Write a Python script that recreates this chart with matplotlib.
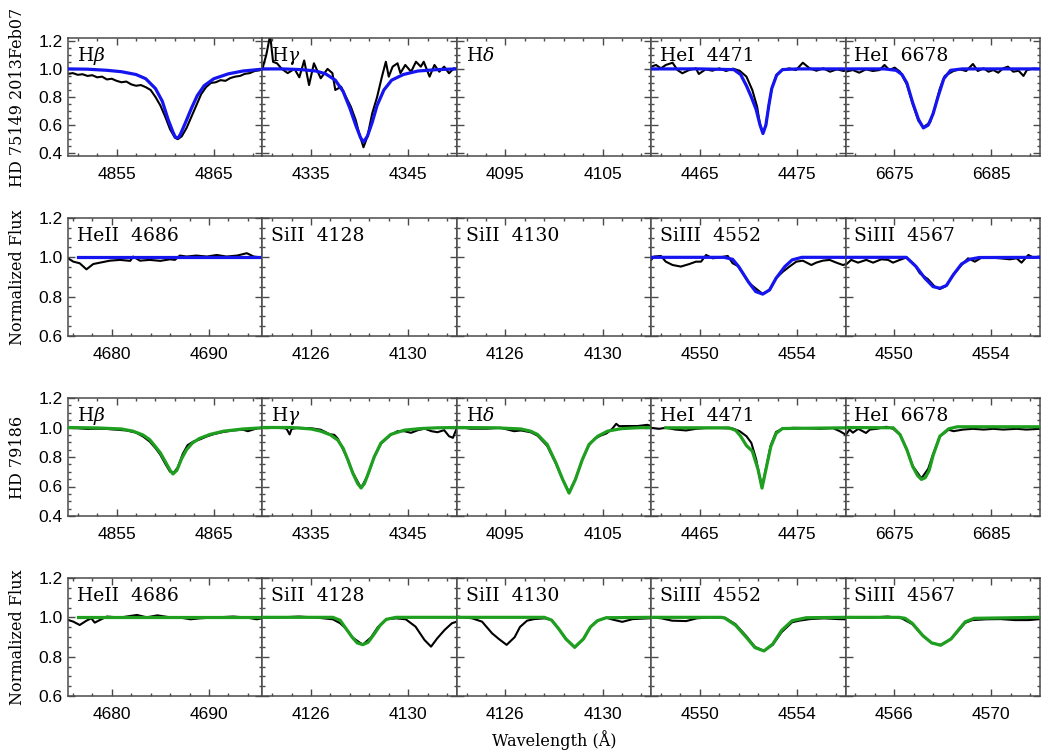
import matplotlib
matplotlib.use('Agg')
import matplotlib.pyplot as plt
from matplotlib.ticker import MultipleLocator, FormatStrFormatter

plt.rcParams['font.family'] = 'Liberation Sans'
plt.rcParams['mathtext.fontset'] = 'dejavuserif'

# ---------------- HD 75149 2013Feb07 (observed = black, model = blue) ----------------
# H beta
hb1_wl = [4850, 4850.5, 4851, 4851.5, 4852, 4852.5, 4853, 4853.5, 4854, 4854.5, 4855, 4855.5,
          4856, 4856.5, 4857, 4857.5, 4858, 4858.5, 4859, 4859.5, 4860, 4860.5, 4861, 4861.3,
          4861.7, 4862.2, 4862.7, 4863.2, 4863.7, 4864.2, 4864.7, 4865.2, 4865.7, 4866.2,
          4866.7, 4867.2, 4867.7, 4868.2, 4868.7, 4869.2, 4869.7, 4870]
hb1_obs = [0.965, 0.97, 0.958, 0.962, 0.95, 0.955, 0.94, 0.945, 0.925, 0.93, 0.915, 0.905,
           0.91, 0.89, 0.88, 0.885, 0.87, 0.85, 0.80, 0.74, 0.66, 0.57, 0.51, 0.50,
           0.52, 0.58, 0.66, 0.74, 0.82, 0.87, 0.90, 0.905, 0.92, 0.915,
           0.935, 0.945, 0.95, 0.965, 0.97, 0.985, 0.99, 1.0]
hb1_mwl = [4850, 4852, 4854, 4855.5, 4857, 4858, 4859, 4859.7, 4860.3, 4860.8, 4861.0, 4861.2,
           4861.4, 4861.6, 4862.1, 4862.7, 4863.3, 4864, 4865, 4866.5, 4868, 4870]
hb1_mod = [1.0, 0.998, 0.99, 0.98, 0.96, 0.93, 0.86, 0.77, 0.64, 0.55, 0.52, 0.508,
           0.515, 0.54, 0.62, 0.72, 0.81, 0.88, 0.93, 0.965, 0.985, 0.998]

# H gamma
hg1_wl = [4330.0, 4330.4, 4330.8, 4331.1, 4331.5, 4332.0, 4332.6, 4333.3, 4333.8, 4334.3,
          4334.8, 4335.3, 4336.0, 4336.7, 4337.2, 4337.5, 4338.1, 4338.6, 4339.1, 4339.6,
          4339.95, 4340.4, 4340.8, 4341.3, 4341.8, 4342.3, 4342.7, 4343.0, 4343.4, 4343.9,
          4344.2, 4344.7, 4345.3, 4345.8, 4346.3, 4346.6, 4347.2, 4347.7, 4348.2, 4348.7,
          4349.2, 4349.7, 4350.0]
hg1_obs = [1.0, 1.10, 1.24, 1.05, 1.04, 1.0, 0.97, 1.0, 0.94, 1.06,
           0.885, 1.04, 0.933, 1.0, 0.97, 0.85, 0.873, 0.80, 0.731, 0.636,
           0.542, 0.442, 0.518, 0.684, 0.80, 0.945, 1.051, 0.945, 1.016, 1.04,
           0.97, 1.028, 0.98, 1.051, 1.016, 1.051, 0.945, 1.028, 0.98, 1.016,
           0.969, 1.004, 1.0]
hg1_mwl = [4330, 4332, 4334, 4335.5, 4336.5, 4337.5, 4338.3, 4339, 4339.6, 4340.1, 4340.4,
           4340.8, 4341.3, 4341.8, 4342.5, 4343.3, 4344.5, 4346, 4348, 4350]
hg1_mod = [1.0, 1.0, 0.995, 0.985, 0.965, 0.92, 0.84, 0.72, 0.60, 0.51, 0.48,
           0.52, 0.62, 0.74, 0.85, 0.92, 0.96, 0.985, 0.995, 1.0]

# HeI 4471
he41_wl = [4460, 4460.5, 4461.0, 4461.5, 4462.2, 4462.7, 4463.2, 4463.9, 4464.6, 4464.9,
           4465.6, 4466.3, 4467.0, 4467.7, 4468.4, 4469.1, 4469.8, 4470.4, 4470.9, 4471.2,
           4471.5, 4471.8, 4472.1, 4472.4, 4472.9, 4473.5, 4474.2, 4474.9, 4475.6, 4476.3,
           4477.0, 4477.7, 4478.4, 4479.1, 4479.8, 4480]
he41_obs = [1.016, 1.028, 1.004, 1.028, 1.044, 0.992, 0.969, 0.992, 1.004, 0.964,
            0.997, 0.987, 1.004, 0.985, 1.002, 0.987, 0.945, 0.85, 0.73, 0.60,
            0.545, 0.60, 0.74, 0.86, 0.957, 0.992, 1.004, 0.992, 1.044, 1.004,
            0.987, 1.004, 0.98, 0.997, 0.985, 0.99]
he41_mwl = [4460, 4465, 4468.5, 4469.2, 4469.8, 4470.3, 4470.8, 4471.2, 4471.5, 4471.8,
            4472.1, 4472.4, 4472.9, 4473.5, 4475, 4480]
he41_mod = [1.0, 1.0, 0.995, 0.96, 0.88, 0.80, 0.71, 0.60, 0.54, 0.60,
            0.74, 0.86, 0.955, 0.995, 1.0, 1.0]

# HeI 6678
he61_wl = [6670, 6670.75, 6671.4, 6672.1, 6672.8, 6673.5, 6674.0, 6674.5, 6675.05, 6675.6,
           6676.3, 6676.9, 6677.5, 6678.0, 6678.7, 6679.2, 6679.7, 6680.2, 6681.1, 6681.75,
           6682.4, 6683.1, 6683.6, 6684.2, 6684.7, 6685.2, 6685.7, 6686.2, 6686.7, 6687.25,
           6687.8, 6688.3, 6688.65, 6689.3, 6690]
he61_obs = [0.98, 0.992, 0.973, 0.997, 0.985, 0.992, 1.028, 0.992, 1.009, 0.98,
            0.89, 0.75, 0.63, 0.585, 0.62, 0.73, 0.86, 0.95, 0.985, 0.997,
            0.985, 1.035, 0.985, 1.004, 0.98, 0.992, 0.973, 1.004, 1.016, 0.98,
            0.987, 0.95, 0.992, 1.002, 0.999]
he61_mwl = [6670, 6674, 6675.2, 6675.8, 6676.3, 6676.9, 6677.5, 6678.0, 6678.5, 6679.0,
            6679.5, 6680.1, 6680.8, 6682, 6690]
he61_mod = [1.0, 1.0, 0.99, 0.96, 0.90, 0.76, 0.64, 0.58, 0.60, 0.68,
            0.80, 0.93, 0.99, 1.0, 1.0]

# HeII 4686
h22_wl = [4675.5, 4676.05, 4676.7, 4677.4, 4678.1, 4678.8, 4679.8, 4680.85, 4681.9, 4682.2,
          4682.9, 4683.9, 4685.0, 4686.0, 4686.5, 4687.0, 4687.7, 4688.7, 4689.8, 4690.8,
          4691.8, 4692.9, 4693.9, 4694.6, 4695.5]
h22_obs = [0.995, 0.978, 0.97, 0.939, 0.966, 0.973, 0.983, 0.987, 0.982, 1.004,
           0.983, 0.987, 0.982, 0.99, 0.987, 1.009, 1.004, 1.009, 1.004, 1.012,
           1.004, 1.009, 1.021, 1.004, 0.999]
h22_mwl = [4676.5, 4695.5]
h22_mod = [1.0, 1.0]

# SiIII 4552
s42_wl = [4548, 4548.12, 4548.4, 4548.6, 4548.88, 4549.22, 4549.57, 4549.84, 4550.05, 4550.26,
          4550.53, 4550.8, 4551.15, 4551.35, 4551.56, 4551.77, 4552.04, 4552.38, 4552.59, 4552.87,
          4553.14, 4553.42, 4553.69, 4553.97, 4554.24, 4554.59, 4554.79, 4555.06, 4555.34, 4555.62,
          4555.89, 4556]
s42_obs = [0.987, 1.004, 1.007, 0.978, 0.961, 0.953, 0.966, 0.978, 0.978, 1.012,
           0.995, 0.999, 1.007, 0.970, 0.956, 0.919, 0.868, 0.834, 0.814, 0.834,
           0.894, 0.927, 0.953, 0.978, 0.983, 0.961, 0.973, 0.983, 0.987, 0.973,
           0.961, 0.965]
s42_mwl = [4548, 4551.0, 4551.35, 4551.6, 4552.0, 4552.3, 4552.59, 4552.87, 4553.14, 4553.5,
           4553.8, 4554.2, 4556]
s42_mod = [1.0, 1.0, 0.99, 0.953, 0.875, 0.826, 0.813, 0.834, 0.894, 0.953,
           0.987, 1.0, 1.0]

# SiIII 4567 (drawn on the 4548-4556 axis, as in the original figure)
s52_wl = [4548.0, 4548.23, 4548.51, 4548.85, 4549.13, 4549.47, 4549.75, 4549.95, 4550.23, 4550.5,
          4550.85, 4551.05, 4551.39, 4551.67, 4551.88, 4552.15, 4552.43, 4552.77, 4553.04, 4553.32,
          4553.6, 4553.94, 4554.35, 4554.76, 4555.04, 4555.24, 4555.52, 4555.73, 4555.97]
s52_obs = [0.961, 0.987, 0.973, 0.987, 0.973, 0.99, 0.987, 0.973, 0.987, 0.999,
           0.961, 0.919, 0.889, 0.851, 0.839, 0.855, 0.911, 0.961, 0.995, 0.978,
           0.999, 0.999, 0.995, 0.99, 0.995, 0.973, 1.012, 0.999, 1.004]
s52_mwl = [4548, 4550.5, 4550.9, 4551.26, 4551.6, 4551.88, 4552.15, 4552.43, 4552.77, 4553.1,
           4553.5, 4556]
s52_mod = [1.0, 1.0, 0.953, 0.894, 0.851, 0.843, 0.857, 0.911, 0.966, 0.990,
           0.999, 1.0]

# ---------------- HD 79186 (observed = black, model = green) ----------------
hb3_wl = [4850, 4851, 4852, 4853, 4854, 4855, 4856, 4857, 4857.7, 4858.4, 4859.0, 4859.5,
          4860.0, 4860.5, 4860.9, 4861.3, 4861.8, 4862.3, 4862.9, 4863.6, 4864.3, 4865,
          4866, 4867, 4868, 4868.5, 4869, 4869.5, 4870]
hb3_obs = [0.998, 0.995, 0.99, 0.992, 0.99, 0.985, 0.98, 0.965, 0.94, 0.905, 0.86, 0.815,
           0.755, 0.70, 0.695, 0.73, 0.82, 0.88, 0.905, 0.92, 0.94, 0.955,
           0.97, 0.98, 0.985, 0.975, 0.985, 0.995, 1.0]
hb3_mwl = [4850, 4853, 4855.5, 4856.7, 4857.7, 4858.4, 4859.0, 4859.5, 4860.0, 4860.5, 4860.8,
           4861.2, 4861.7, 4862.2, 4862.8, 4863.5, 4864.6, 4866, 4868, 4870]
hb3_mod = [1.0, 0.997, 0.99, 0.975, 0.95, 0.918, 0.87, 0.828, 0.77, 0.71, 0.685,
           0.71, 0.79, 0.85, 0.895, 0.925, 0.953, 0.975, 0.99, 0.998]

hg3_wl = [4330, 4331.2, 4332.3, 4332.5, 4332.8, 4333.0, 4333.6, 4335.0, 4336.0, 4336.9,
          4337.4, 4337.75, 4338.6, 4339.3, 4340.15, 4340.8, 4341.5, 4342.2, 4343.2, 4343.9,
          4344.6, 4345.3, 4346.0, 4346.7, 4347.4, 4348.0, 4348.7, 4349.2, 4349.6, 4350]
hg3_obs = [0.998, 0.998, 0.995, 0.99, 0.953, 0.99, 0.998, 0.995, 0.985, 0.955,
           0.95, 0.925, 0.81, 0.695, 0.59, 0.67, 0.80, 0.89, 0.95, 0.975,
           0.975, 0.964, 0.982, 0.992, 0.975, 0.968, 0.982, 0.941, 0.93, 0.995]
hg3_mwl = [4330, 4333, 4335, 4336.0, 4337.0, 4337.75, 4338.3, 4338.8, 4339.3, 4339.8, 4340.15,
           4340.5, 4340.9, 4341.5, 4342.2, 4343.2, 4344.6, 4346.3, 4348, 4350]
hg3_mod = [1.0, 1.0, 0.99, 0.975, 0.95, 0.915, 0.86, 0.78, 0.69, 0.62, 0.59,
           0.62, 0.69, 0.80, 0.895, 0.953, 0.982, 0.993, 0.998, 1.0]

hd3_wl = [4090, 4091.4, 4093.1, 4094.5, 4095.9, 4096.6, 4097.6, 4098.3, 4099.3, 4100.2,
          4100.9, 4101.55, 4102.2, 4102.9, 4103.6, 4104.2, 4104.8, 4105.4, 4106.0, 4106.4,
          4106.7, 4107.6, 4108.6, 4109.6, 4110]
hd3_obs = [1.003, 0.992, 0.992, 0.998, 0.975, 0.98, 0.968, 0.945, 0.875, 0.755,
           0.645, 0.56, 0.65, 0.78, 0.88, 0.925, 0.945, 0.96, 0.992, 1.025,
           1.009, 1.01, 1.01, 1.018, 1.01]
hd3_mwl = [4090, 4094, 4096.6, 4097.6, 4098.3, 4099.3, 4100.2, 4100.9, 4101.55, 4102.2,
           4102.9, 4103.6, 4104.5, 4105.5, 4106.9, 4108.5, 4110]
hd3_mod = [1.0, 0.998, 0.99, 0.975, 0.953, 0.885, 0.76, 0.647, 0.555, 0.647,
           0.78, 0.885, 0.941, 0.975, 0.992, 0.998, 1.0]

he43_wl = [4460, 4460.8, 4461.5, 4462.5, 4463.6, 4464.6, 4465.6, 4467.0, 4468.4, 4469.1,
           4469.8, 4470.3, 4470.8, 4471.1, 4471.4, 4471.8, 4472.3, 4472.85, 4473.5, 4474.6,
           4475.9, 4477.3, 4478.7, 4479.4, 4480]
he43_obs = [0.998, 0.991, 0.998, 0.986, 0.98, 0.991, 0.996, 0.996, 0.993, 0.975,
            0.941, 0.896, 0.784, 0.68, 0.60, 0.72, 0.88, 0.97, 0.991, 0.998,
            0.996, 0.991, 0.996, 0.975, 0.952]
he43_mwl = [4461.5, 4468.0, 4468.7, 4469.2, 4469.8, 4470.4, 4471.0, 4471.4, 4471.8, 4472.3,
            4472.85, 4473.5, 4480]
he43_mod = [0.998, 0.998, 0.98, 0.941, 0.877, 0.84, 0.714, 0.589, 0.714, 0.87,
            0.96, 0.993, 0.998]

he63_wl = [6670.05, 6670.4, 6670.75, 6671.3, 6672.1, 6672.5, 6673.2, 6674.2, 6674.9, 6675.6,
           6676.3, 6676.9, 6677.8, 6678.5, 6679.0, 6679.7, 6680.6, 6681.1, 6682.1, 6683.1,
           6684.2, 6685.2, 6686.2, 6687.6, 6688.6, 6690]
he63_obs = [0.952, 0.986, 0.965, 0.991, 0.963, 0.986, 0.991, 1.005, 0.991, 0.95,
            0.85, 0.74, 0.655, 0.72, 0.82, 0.94, 0.985, 0.975, 0.986, 0.991,
            0.986, 0.991, 0.986, 0.991, 0.986, 0.991]
he63_mwl = [6670, 6674.9, 6675.6, 6676.3, 6676.9, 6677.4, 6677.8, 6678.2, 6678.6, 6679.0,
            6679.7, 6680.6, 6681.5, 6690]
he63_mod = [1.0, 0.998, 0.952, 0.85, 0.736, 0.675, 0.648, 0.66, 0.71, 0.81,
            0.941, 0.991, 1.005, 1.005]

h24_wl = [4675.5, 4676.05, 4676.7, 4677.4, 4677.9, 4678.25, 4678.8, 4679.5, 4680.85, 4682.6,
          4683.6, 4684.7, 4686.0, 4687.0, 4688.1, 4689.1, 4690.8, 4692.5, 4693.9, 4694.9, 4695.5]
h24_obs = [0.987, 0.978, 0.961, 0.983, 0.995, 0.973, 0.987, 1.004, 0.999, 1.012,
           1.0, 1.01, 1.0, 0.999, 0.99, 0.995, 1.0, 1.004, 0.999, 0.99, 0.995]
h24_mwl = [4676.5, 4695.5]
h24_mod = [1.0, 1.0]

s24_wl = [4124.0, 4124.8, 4125.5, 4126.2, 4126.9, 4127.2, 4127.45, 4127.7, 4128.13, 4128.47,
          4128.75, 4129.1, 4129.5, 4129.9, 4130.3, 4130.67, 4130.94, 4131.2, 4131.5, 4131.8, 4132.0]
s24_obs = [0.999, 1.0, 1.004, 0.999, 0.99, 0.97, 0.941, 0.898, 0.861, 0.898,
           0.95, 0.99, 0.995, 0.99, 0.953, 0.885, 0.851, 0.894, 0.936, 0.97, 0.978]
s24_mwl = [4124, 4126.9, 4127.2, 4127.45, 4127.7, 4127.9, 4128.13, 4128.35, 4128.6, 4128.85,
           4129.1, 4129.5, 4132]
s24_mod = [1.0, 1.0, 0.985, 0.941, 0.898, 0.87, 0.861, 0.873, 0.915, 0.96,
           0.99, 1.0, 1.0]

s34_wl = [4124.0, 4124.63, 4125.04, 4125.45, 4125.73, 4126.05, 4126.38, 4126.6, 4126.89, 4127.18,
          4127.61, 4127.9, 4128.19, 4128.49, 4128.85, 4129.21, 4129.5, 4129.79, 4130.15, 4130.37,
          4130.81, 4131.24, 4131.9, 4132.0]
s34_obs = [1.004, 0.995, 0.978, 0.919, 0.89, 0.86, 0.899, 0.951, 0.983, 0.991,
           0.995, 0.986, 0.942, 0.89, 0.846, 0.89, 0.951, 0.983, 0.998, 0.99,
           0.977, 0.991, 0.995, 0.995]
s34_mwl = [4124, 4127.6, 4127.9, 4128.19, 4128.49, 4128.85, 4129.21, 4129.5, 4129.79, 4130.15, 4132]
s34_mod = [1.0, 1.0, 0.986, 0.942, 0.89, 0.848, 0.89, 0.951, 0.983, 0.998, 1.0]

s44_wl = [4548.0, 4548.42, 4548.86, 4549.44, 4549.88, 4550.46, 4551.04, 4551.47, 4551.91, 4552.27,
          4552.64, 4553.0, 4553.37, 4553.8, 4554.09, 4554.53, 4555.11, 4555.69, 4556.0]
s44_obs = [1.0, 0.995, 0.983, 0.981, 0.995, 1.0, 0.998, 0.965, 0.905, 0.85,
           0.829, 0.86, 0.925, 0.975, 0.983, 0.991, 0.995, 0.991, 0.99]
s44_mwl = [4548, 4550.9, 4551.04, 4551.47, 4551.91, 4552.27, 4552.64, 4553.0, 4553.37, 4553.8,
           4554.38, 4556]
s44_mod = [1.0, 1.0, 0.995, 0.96, 0.899, 0.846, 0.829, 0.864, 0.934, 0.983,
           0.998, 1.0]

s54_wl = [4564.0, 4564.13, 4565.0, 4565.73, 4566.31, 4566.75, 4567.18, 4567.54, 4567.91, 4568.34,
          4568.63, 4568.92, 4569.22, 4569.8, 4570.38, 4570.96, 4571.54, 4572.0]
s54_obs = [1.0, 1.0, 0.998, 1.004, 0.995, 0.965, 0.905, 0.87, 0.86, 0.89,
           0.93, 0.972, 0.986, 0.99, 0.991, 0.986, 0.986, 0.991]
s54_mwl = [4564, 4566.2, 4566.45, 4566.75, 4567.18, 4567.54, 4567.91, 4568.34, 4568.63, 4568.92,
           4569.29, 4572]
s54_mod = [1.0, 1.0, 0.995, 0.969, 0.907, 0.87, 0.858, 0.89, 0.934, 0.977,
           0.995, 1.0]

# panel labels, x ranges and tick steps: (major, major offset, minor, minor offset)
lab_h = ['H$\\beta$', 'H$\\gamma$', 'H$\\delta$', 'HeI  4471', 'HeI  6678']
lab_m = ['HeII  4686', 'SiII  4128', 'SiII  4130', 'SiIII  4552', 'SiIII  4567']
xr_h = [(4850, 4870), (4330, 4350), (4090, 4110), (4460, 4480), (6670, 6690)]
xr_m2 = [(4675.5, 4695.5), (4124, 4132), (4124, 4132), (4548, 4556), (4548, 4556)]
xr_m4 = [(4675.5, 4695.5), (4124, 4132), (4124, 4132), (4548, 4556), (4564, 4572)]
tk_h = [(10, 5, 2, 1)] * 5
tk_m = [(10, 0, 2, 0), (4, 2, 0.8, 0.4), (4, 2, 0.8, 0.4), (4, 2, 0.8, 0.4), (4, 2, 0.8, 0.4)]

data = [
    [(hb1_wl, hb1_obs, hb1_mwl, hb1_mod), (hg1_wl, hg1_obs, hg1_mwl, hg1_mod), None,
     (he41_wl, he41_obs, he41_mwl, he41_mod), (he61_wl, he61_obs, he61_mwl, he61_mod)],
    [(h22_wl, h22_obs, h22_mwl, h22_mod), None, None,
     (s42_wl, s42_obs, s42_mwl, s42_mod), (s52_wl, s52_obs, s52_mwl, s52_mod)],
    [(hb3_wl, hb3_obs, hb3_mwl, hb3_mod), (hg3_wl, hg3_obs, hg3_mwl, hg3_mod),
     (hd3_wl, hd3_obs, hd3_mwl, hd3_mod), (he43_wl, he43_obs, he43_mwl, he43_mod),
     (he63_wl, he63_obs, he63_mwl, he63_mod)],
    [(h24_wl, h24_obs, h24_mwl, h24_mod), (s24_wl, s24_obs, s24_mwl, s24_mod),
     (s34_wl, s34_obs, s34_mwl, s34_mod), (s44_wl, s44_obs, s44_mwl, s44_mod),
     (s54_wl, s54_obs, s54_mwl, s54_mod)],
]
labels = [lab_h, lab_m, lab_h, lab_m]
xranges = [xr_h, xr_m2, xr_h, xr_m4]
ticks = [tk_h, tk_m, tk_h, tk_m]
ylims = [(0.38, 1.22), (0.6, 1.2), (0.4, 1.2), (0.6, 1.2)]
mcolor = ['#1515f0', '#1515f0', '#1f9f1f', '#1f9f1f']
ylabels = ['HD 75149 2013Feb07', 'Normalized Flux', 'HD 79186', 'Normalized Flux']

FRAME = '#4a4a4a'

fig = plt.figure(figsize=(10.5, 7.5), dpi=100)
x0, w = 68 / 1050, 194.4 / 1050
h = 118 / 750
tops = [38, 218, 398, 578]

for r in range(4):
    for c in range(5):
        ax = fig.add_axes([x0 + c * w, 1 - (tops[r] + 118) / 750, w, h])
        d = data[r][c]
        if d is not None:
            ax.plot(d[0], d[1], color='black', lw=1.5, zorder=2)
            ax.plot(d[2], d[3], color=mcolor[r], lw=2.3, zorder=3)
        ax.set_xlim(*xranges[r][c])
        ax.set_ylim(*ylims[r])
        mj, mjo, mn, mno = ticks[r][c]
        ax.xaxis.set_major_locator(MultipleLocator(mj, offset=mjo))
        ax.xaxis.set_minor_locator(MultipleLocator(mn, offset=mno))
        ax.xaxis.set_major_formatter(FormatStrFormatter('%d'))
        ax.yaxis.set_major_locator(MultipleLocator(0.2))
        ax.yaxis.set_minor_locator(MultipleLocator(0.05))
        ax.yaxis.set_major_formatter(FormatStrFormatter('%.1f'))
        ax.tick_params(which='both', direction='in', top=True, right=True,
                       color=FRAME, width=1, labelsize=12.5)
        ax.tick_params(which='major', length=5)
        ax.tick_params(which='minor', length=2.5)
        ax.tick_params(axis='x', pad=8)
        ax.tick_params(axis='y', pad=4, labelleft=(c == 0))
        for s in ax.spines.values():
            s.set_color(FRAME)
            s.set_linewidth(1.1)
        ax.text(0.045, 0.805, labels[r][c], transform=ax.transAxes, ha='left',
                va='baseline', fontsize=13.5, family='DejaVu Serif')
    fig.text(18 / 1050, 1 - (tops[r] + 59) / 750, ylabels[r], rotation=90,
             ha='center', va='center', fontsize=11.5, family='DejaVu Serif')

fig.text(554 / 1050, 1 - 740 / 750, 'Wavelength (Å)', ha='center', va='center',
         fontsize=11.5, family='DejaVu Serif')

fig.savefig('out.png', dpi=100)
